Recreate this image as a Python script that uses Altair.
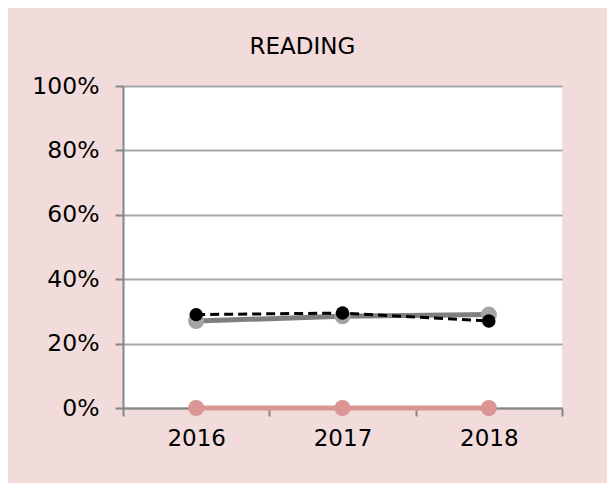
import altair as alt
import pandas as pd

years = ["2016", "2017", "2018"]
series_names = ["Gray", "Black", "Pink"]
gray_values = [0.27, 0.285, 0.29]
black_values = [0.29, 0.295, 0.27]
pink_values = [0.0, 0.0, 0.0]
y_ticks = [0, 0.2, 0.4, 0.6, 0.8, 1.0]

rows = []
for name, vals in zip(series_names, [gray_values, black_values, pink_values]):
    for yr, v in zip(years, vals):
        rows.append({"year": yr, "series": name, "value": v})
df = pd.DataFrame(rows)

FONT = "DejaVu Sans"

x_enc = alt.X(
    "year:N",
    bandPosition=0.5,
    scale=alt.Scale(type="band", paddingInner=0, paddingOuter=0),
    axis=alt.Axis(
        title=None,
        labelAngle=0,
        tickBand="extent",
        ticks=True,
        tickSize=8,
        tickWidth=2,
        tickColor="#868686",
        domainColor="#868686",
        domainWidth=2,
        labelPadding=11,
        labelFontSize=23,
        labelFont=FONT,
        labelColor="#000000",
        grid=False,
    ),
)
y_enc = alt.Y(
    "value:Q",
    scale=alt.Scale(domain=[0, 1], nice=False),
    axis=alt.Axis(
        title=None,
        values=y_ticks,
        format=".0%",
        tickSize=8,
        tickWidth=2,
        tickColor="#868686",
        domainColor="#868686",
        domainWidth=2,
        gridColor="#a6a6a6",
        gridWidth=2,
        labelPadding=16,
        labelFontSize=23.5,
        labelFont=FONT,
        labelColor="#000000",
    ),
)

base = alt.Chart(df).encode(x=x_enc, y=y_enc)


def layer(name, line_color, point_color, stroke_width, point_size, dash=None):
    sub = base.transform_filter(alt.datum.series == name)
    line_kwargs = dict(color=line_color, strokeWidth=stroke_width)
    if dash:
        line_kwargs["strokeDash"] = dash
    line = sub.mark_line(**line_kwargs)
    pts = sub.mark_circle(color=point_color, size=point_size, opacity=1)
    return [line, pts]


layers = []
layers += layer("Pink", "#d99694", "#d99694", 5, 260)
layers += layer("Gray", "#7f7f7f", "#a5a5a5", 5, 260)
layers += layer("Black", "#000000", "#000000", 3, 180, dash=[9, 5])

chart = (
    alt.layer(*layers)
    .properties(
        width=439,
        height=322,
        title=alt.TitleParams(
            "READING",
            font=FONT,
            fontSize=23,
            fontWeight="normal",
            color="#000000",
            offset=15,
            dx=-40,
        ),
        autosize=alt.AutoSizeParams(type="none"),
        padding={"left": 115, "top": 78, "right": 45, "bottom": 75},
        background="#f2dcdb",
    )
    .configure_view(fill="#ffffff", stroke=None)
)

chart.save("out.html", embed_options={"renderer": "svg", "actions": False})
